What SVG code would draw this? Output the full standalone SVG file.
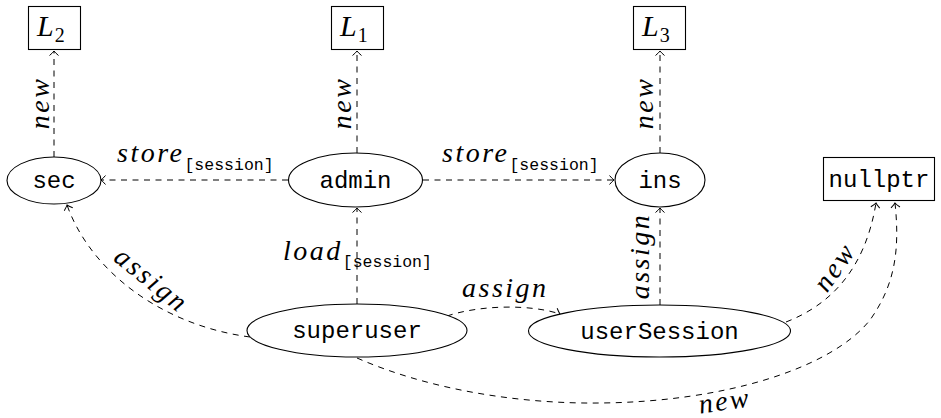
<svg xmlns="http://www.w3.org/2000/svg" width="941" height="418" viewBox="0 0 941 418">
<style>
.node{fill:#fff;stroke:#000;stroke-width:1.1}
.tt{font-family:"Liberation Mono","DejaVu Sans Mono",monospace;font-size:24px;fill:#000;text-anchor:middle}
.math{font-family:"Liberation Serif","DejaVu Serif",serif;font-style:italic;font-size:28px;letter-spacing:2.5px;fill:#000}
.sub{font-family:"Liberation Mono","DejaVu Sans Mono",monospace;font-size:16.5px;font-style:normal;letter-spacing:0;fill:#000}
.lbl{font-family:"Liberation Serif","DejaVu Serif",serif;font-size:30px;fill:#000}
.subn{font-family:"Liberation Serif","DejaVu Serif",serif;font-size:20px;font-style:normal}
.edge{fill:none;stroke:#000;stroke-width:1;stroke-dasharray:6 5.5;marker-end:url(#arr)}
</style>
<defs>
<marker id="arr" markerUnits="userSpaceOnUse" markerWidth="12" markerHeight="12" refX="0" refY="0" orient="auto" overflow="visible">
<path d="M-4.5,-4.5 Q-1.5,-1 0,0 Q-1.5,1 -4.5,4.5" fill="none" stroke="#000" stroke-width="1" stroke-dasharray="none"/>
</marker>
</defs>
<g id="connectors">
<path class="edge" d="M54,157 L54,51"/>
<path class="edge" d="M357,153 L357,51"/>
<path class="edge" d="M660,153 L660,51"/>
<path class="edge" d="M288,180 L101,180"/>
<path class="edge" d="M423,180 L614,180"/>
<path class="edge" d="M357,304 L357,208"/>
<path class="edge" d="M660,305 L660,208"/>
<path class="edge" d="M250,337 C160,325 90,270 67,205"/>
<path class="edge" d="M447,316 C480,305 530,304 560,314"/>
<path class="edge" d="M786,322 C830,305 865,270 876,203"/>
<path class="edge" d="M357,358 C430,390 520,404 600,403 C720,402 830,370 870,320 C895,285 900,250 895,203"/>
<text x="117" y="162"><tspan class="math">store</tspan><tspan class="sub" dy="8">[session]</tspan></text>
<text x="442" y="162"><tspan class="math">store</tspan><tspan class="sub" dy="8">[session]</tspan></text>
<text x="283" y="260"><tspan class="math">load</tspan><tspan class="sub" dy="7">[session]</tspan></text>
<text class="math" x="462" y="297">assign</text>
<text class="math" text-anchor="middle" transform="translate(49,103) rotate(-90)">new</text>
<text class="math" text-anchor="middle" transform="translate(351,103) rotate(-90)">new</text>
<text class="math" text-anchor="middle" transform="translate(653,103) rotate(-90)">new</text>
<text class="math" text-anchor="middle" transform="translate(649,256) rotate(-90)">assign</text>
<text class="math" text-anchor="middle" transform="translate(146,287) rotate(39)">assign</text>
<text class="math" text-anchor="middle" transform="translate(842,272) rotate(-55)">new</text>
<text class="math" text-anchor="middle" transform="translate(726,410) rotate(-8)">new</text>
</g>
<g id="L2"><rect class="node" x="28.5" y="6.5" width="52" height="43"/><text class="lbl" x="37" y="36"><tspan font-style="italic">L</tspan><tspan class="subn" dx="1" dy="6">2</tspan></text></g>
<g id="L1"><rect class="node" x="331.5" y="6.5" width="52" height="43"/><text class="lbl" x="340" y="36"><tspan font-style="italic">L</tspan><tspan class="subn" dx="1" dy="6">1</tspan></text></g>
<g id="L3"><rect class="node" x="633.5" y="6.5" width="52" height="43"/><text class="lbl" x="642" y="36"><tspan font-style="italic">L</tspan><tspan class="subn" dx="1" dy="6">3</tspan></text></g>
<g id="nullptr"><rect class="node" x="823.5" y="157.5" width="111" height="43"/><text class="tt" x="879" y="187">nullptr</text></g>
<g id="sec"><ellipse class="node" cx="54" cy="180.5" rx="47" ry="23.5"/><text class="tt" x="54" y="188">sec</text></g>
<g id="admin"><ellipse class="node" cx="355.5" cy="180" rx="67" ry="27"/><text class="tt" x="355.5" y="188">admin</text></g>
<g id="ins"><ellipse class="node" cx="660" cy="180" rx="45" ry="27"/><text class="tt" x="660" y="188">ins</text></g>
<g id="superuser"><ellipse class="node" cx="357" cy="330.5" rx="110" ry="26.5"/><text class="tt" x="357" y="338">superuser</text></g>
<g id="userSession"><ellipse class="node" cx="659.5" cy="331" rx="131" ry="26"/><text class="tt" x="659.5" y="339">userSession</text></g>
</svg>
